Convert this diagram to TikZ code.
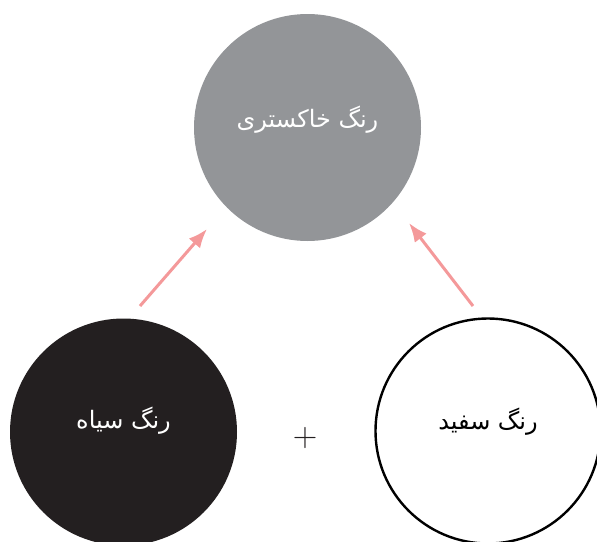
\documentclass[tikz,border=0pt]{standalone}
\usepackage{fontspec}
\newfontfamily\arabicfont[Script=Arabic]{DejaVu Sans}
\TeXXeTstate=1
\usetikzlibrary{arrows.meta}
\definecolor{graycirc}{HTML}{939598}
\definecolor{blackcirc}{HTML}{231F20}
\definecolor{salmon}{HTML}{F4999A}
\tikzset{
  disc/.style={circle, minimum size=227pt, inner sep=0pt},
  lbl/.style={font=\arabicfont\fontsize{24}{28}\selectfont, inner sep=0pt},
  flow/.style={salmon, line width=3pt, -{Latex[length=19pt,width=15pt]}},
}
\begin{document}
\begin{tikzpicture}[x=1pt,y=-1pt]
\useasboundingbox (0,0) rectangle (597,541);
\begin{scope}
\clip (0,0) rectangle (597,541);
\node[disc, fill=graycirc] (gray) at (307.5,127.5) {};
\node[disc, fill=blackcirc] (black) at (123.5,432) {};
\node[disc, draw=black, line width=2.4pt, fill=white, minimum size=225pt] (white) at (488,431) {};
\end{scope}
\node[lbl, text=white] (tgray) at ([yshift=8pt]gray.center) {\beginR رنگ خاکستری\endR};
\node[lbl, text=white] (tblack) at ([yshift=11pt]black.center) {\beginR رنگ سیاه\endR};
\node[lbl, text=black] (twhite) at ([yshift=9pt]white.center) {\beginR رنگ سفید\endR};
\node[font=\fontsize{34}{34}\selectfont, text=blackcirc, inner sep=0pt] (plus) at (305,438) {+};
\coordinate (a1) at (140,306);
\coordinate (a2) at (207,229);
\coordinate (b1) at (473,306);
\coordinate (b2) at (409,223);
\draw[flow] (a1) -- (a2);
\draw[flow] (b1) -- (b2);
\end{tikzpicture}
\end{document}
